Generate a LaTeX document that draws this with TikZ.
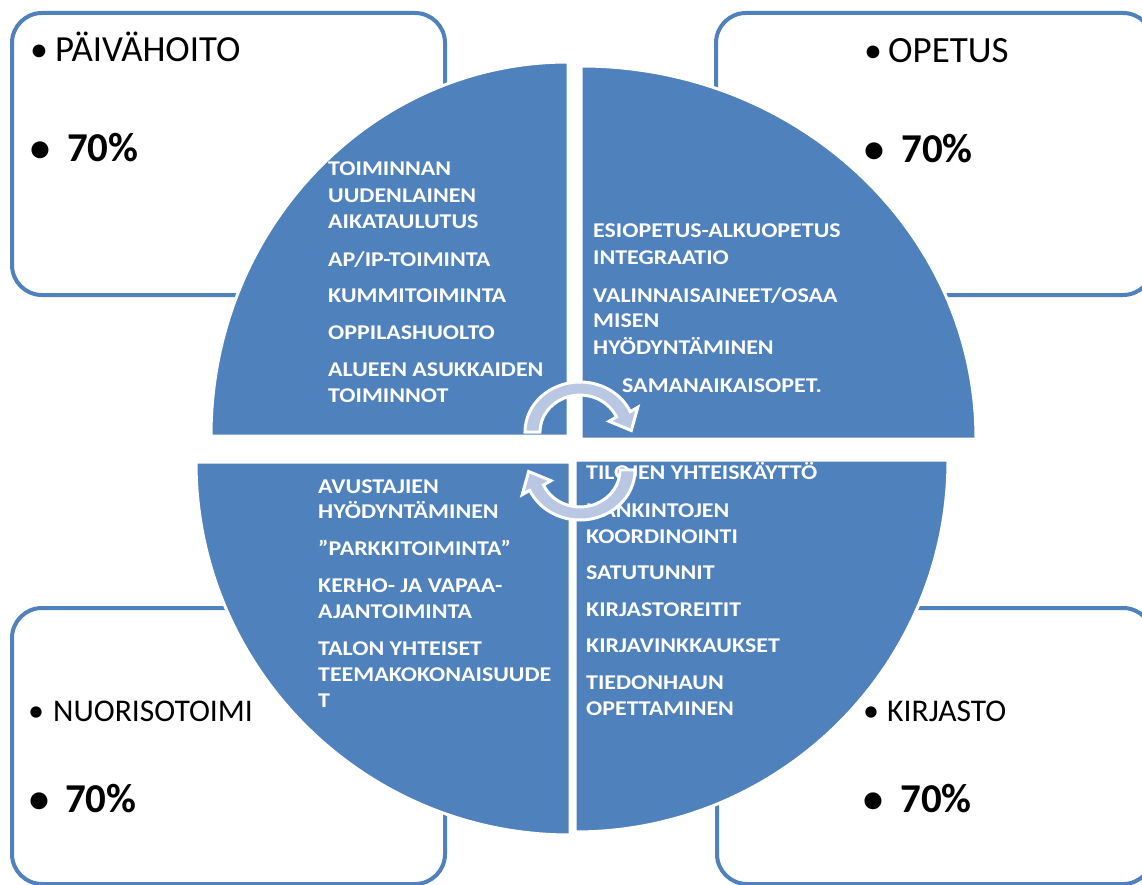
\documentclass[tikz,border=0pt]{standalone}
\usepackage{fontspec}
\setmainfont{Carlito}
\newfontfamily\quadfont[FakeStretch=1.14]{Carlito}
\definecolor{qblue}{RGB}{79,129,189}
\definecolor{arrowfill}{RGB}{185,199,226}
\begin{document}
\begin{tikzpicture}[x=1pt,y=-1pt,
  box/.style={draw=qblue, line width=4pt, rounded corners=30pt},
  quad/.style={fill=qblue, draw=white, line width=3pt},
  qtext/.style={anchor=base west, text=white, font=\quadfont\bfseries\fontsize{21}{25}\selectfont, inner sep=0pt},
  lbl/.style={anchor=base west, font=\fontsize{#1}{40}\selectfont, inner sep=0pt},
  lblbul/.style={anchor=base, font=\fontsize{#1}{40}\selectfont, inner sep=0pt},
  pct/.style={anchor=base west, font=\bfseries\fontsize{41}{44}\selectfont, inner sep=0pt},
  pctbul/.style={anchor=base, font=\bfseries\fontsize{40}{44}\selectfont, inner sep=0pt},
  cyc/.style={fill=arrowfill, draw=white, line width=3pt, line join=miter}]
\useasboundingbox (0,0) rectangle (1142,885);
\clip (0,0) rectangle (1142,885);

% corner boxes
\draw[box] (12,13) rectangle (445,295);
\draw[box] (716,13) rectangle (1153,295);
\draw[box] (12,608) rectangle (445,884);
\draw[box] (717,608) rectangle (1153,884);

% box labels
\node[lblbul=36] (b1) at (39,62) {•};
\node[lbl=36.8] (l1) at (55,62) {PÄIVÄHOITO};
\node[pctbul] (b2) at (40,162) {•};
\node[pct] (p1) at (67,162) {70\%};

\node[lblbul=36] (b3) at (873,63) {•};
\node[lbl=37] (l2) at (888,63) {OPETUS};
\node[pctbul] (b4) at (874,163) {•};
\node[pct] (p2) at (901,163) {70\%};

\node[lblbul=32] (b5) at (36,721) {•};
\node[lbl=31.6] (l3) at (53,721) {NUORISOTOIMI};
\node[pctbul] (b6) at (39,812) {•};
\node[pct] (p3) at (65,812) {70\%};

\node[lblbul=32] (b7) at (871,721) {•};
\node[lbl=31.6] (l4) at (887,721) {KIRJASTO};
\node[pctbul] (b8) at (873,812) {•};
\node[pct] (p4) at (900,812) {70\%};

% quadrants
\path[quad] (568,436) -- (211,436) arc[start angle=180,end angle=270,x radius=357,y radius=374] -- cycle;
\path[quad] (581,439) -- (976,439) arc[start angle=0,end angle=-90,x radius=395,y radius=373] -- cycle;
\path[quad] (570,462) -- (196,462) arc[start angle=180,end angle=90,x radius=374,y radius=373] -- cycle;
\path[quad] (575,460) -- (948,460) arc[start angle=0,end angle=90,x radius=373,y radius=372] -- cycle;

% quadrant texts
\foreach \y/\t [count=\i] in {176/TOIMINNAN, 203/UUDENLAINEN, 229/AIKATAULUTUS, 266/{AP/IP-TOIMINTA}, 302/KUMMITOIMINTA, 339/OPPILASHUOLTO, 376/ALUEEN ASUKKAIDEN, 402/TOIMINNOT}
  \node[qtext] (tl\i) at (328,\y) {\t};
\foreach \y/\t [count=\i] in {238/ESIOPETUS-ALKUOPETUS, 265/INTEGRAATIO, 302/{VALINNAISAINEET/OSAA}, 327/MISEN, 354/HYÖDYNTÄMINEN}
  \node[qtext] (tr\i) at (593,\y) {\t};
\node[qtext] (tr6) at (622,392) {SAMANAIKAISOPET.};
\foreach \y/\t [count=\i] in {493/AVUSTAJIEN, 518/HYÖDYNTÄMINEN, 555/”PARKKITOIMINTA”, 592/KERHO- JA VAPAA-, 618/AJANTOIMINTA, 655/TALON YHTEISET, 681/TEEMAKOKONAISUUDE, 707/T}
  \node[qtext] (bl\i) at (318,\y) {\t};
\foreach \y/\t [count=\i] in {479/TILOJEN YHTEISKÄYTTÖ, 517/HANKINTOJEN, 543/KOORDINOINTI, 579/SATUTUNNIT, 616/KIRJASTOREITIT, 652/KIRJAVINKKAUKSET, 689/TIEDONHAUN, 715/OPETTAMINEN}
  \node[qtext] (br\i) at (586,\y) {\t};

% circular arrows
\path[cyc] (525,432) arc[start angle=180,end angle=336,x radius=55,y radius=50]
  -- (637.8,407.3) -- (631.3,430.5) -- (609,421.3) -- (616.5,417)
  arc[start angle=336,end angle=180,x radius=40,y radius=37] -- cycle;
\begin{scope}[rotate around={180:(580,451)}]
\path[cyc] (525,432) arc[start angle=180,end angle=336,x radius=55,y radius=50]
  -- (637.8,407.3) -- (631.3,430.5) -- (609,421.3) -- (616.5,417)
  arc[start angle=336,end angle=180,x radius=40,y radius=37] -- cycle;
\end{scope}
\end{tikzpicture}
\end{document}
